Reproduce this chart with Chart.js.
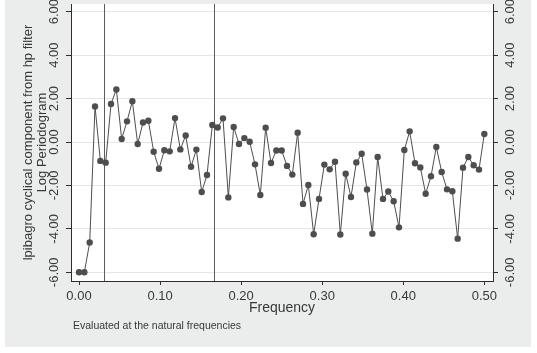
<!DOCTYPE html>
<html><head><meta charset="utf-8">
<script src="https://cdn.jsdelivr.net/npm/chart.js@4/dist/chart.umd.min.js"></script>
<style>html,body{margin:0;padding:0;background:#fff;}canvas{display:block;}</style>
</head><body>
<canvas id="c" width="537" height="353"></canvas>
<script>
// natural frequencies k/152, k = 0..76
const frequencies = [0,.00658,.01316,.01974,.02632,.03289,.03947,.04605,.05263,.05921,
 .06579,.07237,.07895,.08553,.09211,.09868,.10526,.11184,.11842,.125,
 .13158,.13816,.14474,.15132,.15789,.16447,.17105,.17763,.18421,.19079,
 .19737,.20395,.21053,.21711,.22368,.23026,.23684,.24342,.25,.25658,
 .26316,.26974,.27632,.28289,.28947,.29605,.30263,.30921,.31579,.32237,
 .32895,.33553,.34211,.34868,.35526,.36184,.36842,.375,.38158,.38816,
 .39474,.40132,.40789,.41447,.42105,.42763,.43421,.44079,.44737,.45395,
 .46053,.46711,.47368,.48026,.48684,.49342,.5];
const logPeriodogram = [-6.0,-6.0,-4.63,1.64,-0.87,-0.95,1.75,2.42,0.14,0.95,
 1.88,-0.09,0.90,0.98,-0.45,-1.23,-0.38,-0.43,1.10,-0.34,
 0.30,-1.14,-0.35,-2.30,-1.52,0.78,0.67,1.09,-2.55,0.69,
 -0.09,0.18,0.01,-1.03,-2.44,0.66,-0.97,-0.39,-0.39,-1.10,
 -1.50,0.43,-2.85,-1.98,-4.25,-2.62,-1.04,-1.26,-0.91,-4.26,
 -1.46,-2.53,-0.94,-0.54,-2.19,-4.22,-0.69,-2.62,-2.28,-2.73,
 -3.93,-0.37,0.49,-0.98,-1.17,-2.38,-1.58,-0.23,-1.38,-2.18,
 -2.27,-4.45,-1.18,-0.69,-1.07,-1.27,0.37];
const bandFrequencies = [0.03125, 0.16667];
const yTickValues = [-6,-4,-2,0,2,4,6];
const xTickValues = [0,0.1,0.2,0.3,0.4,0.5];
const yTitleLines = ['lpibagro cyclical component from hp filter','Log Periodogram'];
const xTitleText = 'Frequency';
const noteText = 'Evaluated at the natural frequencies';

const FONT = "'Liberation Sans', Arial, sans-serif";
const TXT = '#383838';
const AXIS = '#2e2e2e';
const SERIES = '#4e4e4e';

const bgPlugin = {
  id: 'bg',
  beforeDraw(chart) {
    const {ctx, chartArea: a} = chart;
    ctx.save();
    ctx.fillStyle = '#ffffff'; ctx.fillRect(0, 0, chart.width, chart.height);
    ctx.fillStyle = '#ebedec'; ctx.fillRect(5, 0, 526, 347);
    ctx.fillStyle = '#ffffff'; ctx.fillRect(a.left, a.top, a.right - a.left, a.bottom - a.top);
    ctx.restore();
  }
};
const bandPlugin = {
  id: 'bands',
  beforeDatasetsDraw(chart) {
    const {ctx, chartArea: a, scales: {x}} = chart;
    ctx.save();
    ctx.strokeStyle = '#5c5c5c'; ctx.lineWidth = 1;
    bandFrequencies.forEach(f => {
      const px = Math.round(x.getPixelForValue(f)) + 0.5;
      ctx.beginPath(); ctx.moveTo(px, a.top); ctx.lineTo(px, a.bottom); ctx.stroke();
    });
    ctx.restore();
  }
};
const notePlugin = {
  id: 'note',
  afterDraw(chart) {
    const ctx = chart.ctx;
    ctx.save();
    ctx.font = '10.5px ' + FONT; ctx.fillStyle = TXT; ctx.textBaseline = 'middle'; ctx.textAlign = 'left';
    ctx.fillText(noteText, 73, 326);
    ctx.restore();
  }
};

function yAxis(pos, width, pad, withTitle) {
  return {
    type: 'linear', position: pos, min: -6.4, max: 6.354,
    afterBuildTicks: s => { s.ticks = yTickValues.map(v => ({value: v})); },
    afterFit: s => { s.width = width; s.paddingTop = 0; s.paddingBottom = 0; },
    grid: pos === 'left'
      ? { color: '#e6e6e6', lineWidth: 1, drawTicks: true, tickLength: 5, tickColor: AXIS, tickWidth: 1 }
      : { drawOnChartArea: false, drawTicks: true, tickLength: 5, tickColor: AXIS, tickWidth: 1 },
    border: { display: true, color: AXIS, width: 1 },
    ticks: { color: TXT, font: {family: FONT, size: 13}, minRotation: 90, maxRotation: 90,
             crossAlign: 'center', padding: pad, autoSkip: false, callback: v => Number(v).toFixed(2) },
    title: withTitle ? { display: true, text: yTitleLines, color: TXT,
             font: {family: FONT, size: 13, lineHeight: 1.08}, padding: {top: 21, bottom: 0} } : {display: false}
  };
}

new Chart(document.getElementById('c'), {
  type: 'line',
  data: {
    datasets: [{
      data: frequencies.map((f, i) => ({x: f, y: logPeriodogram[i]})),
      borderColor: SERIES, borderWidth: 1, tension: 0,
      pointRadius: 3.2, pointBackgroundColor: SERIES, pointBorderWidth: 0,
      xAxisID: 'x', yAxisID: 'y'
    }]
  },
  options: {
    responsive: false, animation: false, devicePixelRatio: 1,
    layout: { padding: {top: 3, left: 0, right: 0, bottom: 0} },
    plugins: { legend: {display: false}, tooltip: {enabled: false} },
    scales: {
      x: {
        type: 'linear', position: 'bottom', min: -0.0099, max: 0.5107,
        afterBuildTicks: s => { s.ticks = xTickValues.map(v => ({value: v})); },
        afterFit: s => { s.height = 72; s.paddingLeft = 0; s.paddingRight = 0; },
        grid: { drawOnChartArea: false, drawTicks: true, tickLength: 4, tickColor: AXIS, tickWidth: 1 },
        border: { display: true, color: AXIS, width: 1 },
        ticks: { color: TXT, font: {family: FONT, size: 13}, padding: 4, maxRotation: 0, autoSkip: false,
                 callback: v => Number(v).toFixed(2) },
        title: { display: true, text: xTitleText, color: TXT, font: {family: FONT, size: 14},
                 padding: {top: 0, bottom: 36.6} }
      },
      y: yAxis('left', 71, -3.3, true),
      y2: yAxis('right', 44, -2.8, false)
    }
  },
  plugins: [bgPlugin, bandPlugin, notePlugin]
});
</script>
</body></html>
